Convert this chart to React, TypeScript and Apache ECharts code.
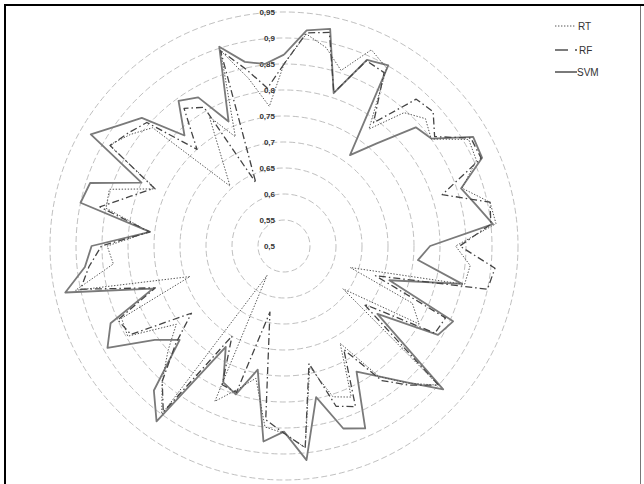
import React, { useEffect, useRef } from "react";
import * as echarts from "echarts";

// Values read clockwise from the top spoke (60 spokes, 6 degrees apart)
const RT_VALUES = [
  0.85, 0.91, 0.89, 0.855, 0.913, 0.895, 0.778, 0.845, 0.866, 0.85,
  0.91, 0.905, 0.86, 0.905, 0.91, 0.83, 0.86, 0.855, 0.634, 0.77,
  0.8, 0.64, 0.9, 0.855, 0.81, 0.716, 0.818, 0.805, 0.738, 0.89,
  0.86, 0.85, 0.76, 0.79, 0.827, 0.565, 0.9, 0.85, 0.8, 0.756,
  0.847, 0.842, 0.69, 0.91, 0.83, 0.84, 0.76, 0.85, 0.853, 0.77,
  0.888, 0.865, 0.84, 0.655, 0.7, 0.787, 0.73, 0.895, 0.83, 0.77,
];
const RF_VALUES = [
  0.85, 0.912, 0.92, 0.81, 0.89, 0.885, 0.793, 0.88, 0.886, 0.858,
  0.915, 0.915, 0.82, 0.905, 0.9, 0.838, 0.908, 0.9, 0.685, 0.84,
  0.835, 0.69, 0.9, 0.86, 0.82, 0.73, 0.838, 0.824, 0.731, 0.89,
  0.86, 0.836, 0.63, 0.796, 0.792, 0.7, 0.895, 0.85, 0.78, 0.72,
  0.84, 0.85, 0.76, 0.9, 0.877, 0.851, 0.76, 0.862, 0.81, 0.773,
  0.886, 0.87, 0.855, 0.75, 0.827, 0.808, 0.633, 0.895, 0.847, 0.805,
];
const SVM_VALUES = [
  0.868, 0.917, 0.927, 0.809, 0.892, 0.901, 0.716, 0.765, 0.841, 0.851,
  0.92, 0.917, 0.858, 0.878, 0.904, 0.781, 0.759, 0.85, 0.713, 0.856,
  0.842, 0.722, 0.912, 0.853, 0.81, 0.779, 0.884, 0.869, 0.797, 0.914,
  0.857, 0.878, 0.743, 0.8, 0.787, 0.724, 0.917, 0.874, 0.77, 0.807,
  0.892, 0.865, 0.765, 0.93, 0.885, 0.87, 0.759, 0.9, 0.892, 0.8,
  0.929, 0.894, 0.868, 0.786, 0.845, 0.83, 0.762, 0.903, 0.862, 0.852,
];
const SERIES_NAMES = ["RT", "RF", "SVM"];
const AXIS_MIN = 0.5;
const AXIS_MAX = 0.95;
const SPLITS = 9;

const N = SVM_VALUES.length;
// ECharts places indicators counter-clockwise; reorder clockwise readings.
const toCCW = (a: number[]) => a.map((_, k) => a[(N - k) % N]);

export default function App() {
  const ref = useRef<HTMLDivElement>(null);
  useEffect(() => {
    if (!ref.current) return;
    const chart = echarts.init(ref.current, undefined, { renderer: "svg" });
    const indicator = Array.from({ length: N }, (_, i) =>
      i === 0
        ? {
            name: "",
            min: AXIS_MIN,
            max: AXIS_MAX,
            axisLabel: {
              show: true,
              margin: 9,
              color: "#333",
              fontSize: 8,
              fontWeight: "bold",
              fontFamily: "Liberation Sans",
              formatter: (v: number) =>
                String(Math.round(v * 100) / 100).replace(".", ","),
            },
          }
        : { name: "", min: AXIS_MIN, max: AXIS_MAX }
    );
    const font = "Liberation Sans";
    chart.setOption({
      animation: false,
      backgroundColor: "#fff",
      radar: {
        center: [284, 246],
        radius: 234,
        startAngle: 90,
        splitNumber: SPLITS,
        shape: "circle",
        indicator,
        axisName: { show: false },
        axisLine: { show: false },
        axisTick: { show: false },
        axisLabel: { show: false },
        splitArea: { show: false },
        splitLine: {
          lineStyle: { color: "#b8b8b8", width: 0.9, type: [6, 3] },
        },
      },
      series: [
        {
          type: "radar",
          symbol: "none",
          silent: true,
          data: [
            {
              name: SERIES_NAMES[2],
              value: toCCW(SVM_VALUES),
              lineStyle: { color: "#7a7a7a", width: 1.8, type: "solid" },
              itemStyle: { color: "#7a7a7a" },
            },
            {
              name: SERIES_NAMES[1],
              value: toCCW(RF_VALUES),
              lineStyle: { color: "#444", width: 1.3, type: [7, 3, 1.5, 3] },
              itemStyle: { color: "#444" },
            },
            {
              name: SERIES_NAMES[0],
              value: toCCW(RT_VALUES),
              lineStyle: { color: "#555", width: 1, type: [1.4, 1.6] },
              itemStyle: { color: "#555" },
            },
          ],
        },
      ],
      graphic: [
        { type: "rect", shape: { x: 4, y: 4, width: 640, height: 2 }, style: { fill: "#000" } },
        { type: "rect", shape: { x: 4, y: 4, width: 2, height: 480 }, style: { fill: "#000" } },
        { type: "line", shape: { x1: 640.5, y1: 6, x2: 640.5, y2: 484 }, style: { stroke: "#777", lineWidth: 1 } },
        { type: "line", shape: { x1: 555, y1: 26, x2: 576, y2: 26 }, style: { stroke: "#555", lineWidth: 1, lineDash: [1.4, 1.6] } },
        { type: "text", x: 578, y: 26, style: { text: SERIES_NAMES[0], fill: "#333", fontSize: 10, fontFamily: font, verticalAlign: "middle" } },
        { type: "line", shape: { x1: 555, y1: 50, x2: 568, y2: 50 }, style: { stroke: "#444", lineWidth: 1.4 } },
        { type: "line", shape: { x1: 575, y1: 50, x2: 577, y2: 50 }, style: { stroke: "#444", lineWidth: 1.4 } },
        { type: "text", x: 579, y: 50, style: { text: SERIES_NAMES[1], fill: "#333", fontSize: 10, fontFamily: font, verticalAlign: "middle" } },
        { type: "line", shape: { x1: 555, y1: 72, x2: 577, y2: 72 }, style: { stroke: "#7a7a7a", lineWidth: 2 } },
        { type: "text", x: 577, y: 72, style: { text: SERIES_NAMES[2], fill: "#333", fontSize: 10, fontFamily: font, verticalAlign: "middle" } },
      ],
    });
    return () => chart.dispose();
  }, []);
  return (
    <div
      ref={ref}
      style={{ position: "absolute", left: 0, top: 0, width: 644, height: 484 }}
    />
  );
}
